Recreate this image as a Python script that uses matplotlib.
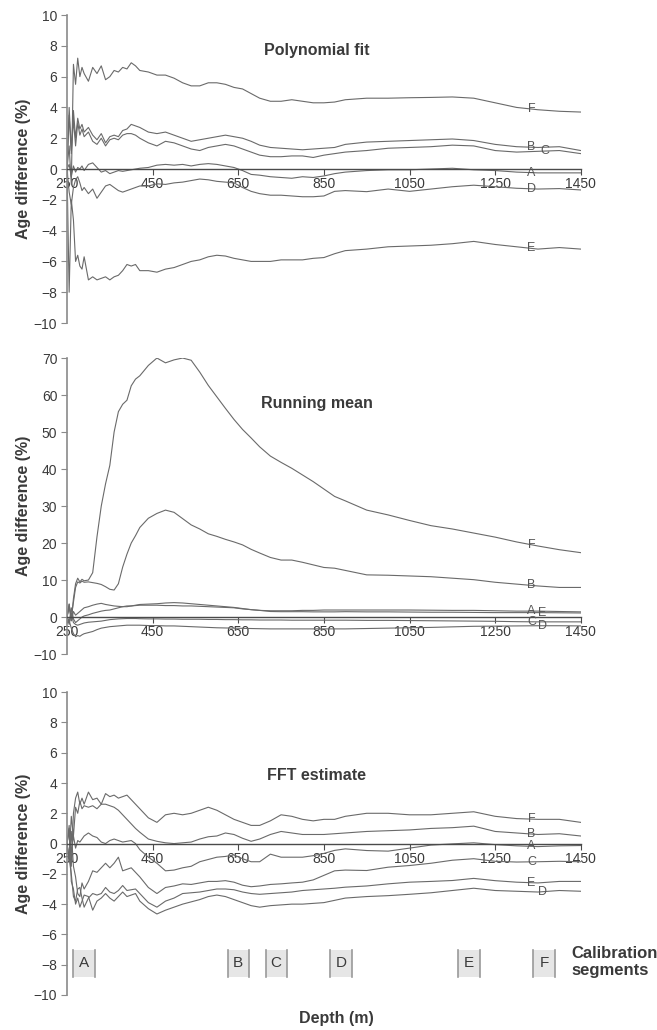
import numpy as np
import matplotlib
matplotlib.use("Agg")
import matplotlib.pyplot as plt
from matplotlib.patches import Rectangle

plt.rcParams['font.family'] = ['Liberation Sans', 'DejaVu Sans']

# depth grid (m) shared by all three panels
depth = [250, 255, 260, 265, 270, 275, 280, 285, 290,
         300, 310, 320, 330, 340, 350, 360, 370, 380, 390, 400, 410, 420,
         440, 460, 480, 500, 520, 540, 560, 580, 600, 620, 640, 660, 680, 700,
         725, 750, 775, 800, 825, 850, 875, 900,
         950, 1000, 1050, 1100, 1150, 1200, 1250, 1300, 1350, 1400, 1450]

# --- Polynomial fit ---
poly_A = [0.0, 0.3, -0.5, 0.2, -0.2, 0.1, 0.0, 0.2, -0.1,
          0.3, 0.4, 0.1, -0.2, -0.1, -0.3, -0.2, -0.1, -0.15, -0.1, -0.05, 0.0, 0.05,
          0.1, 0.25, 0.3, 0.25, 0.3, 0.2, 0.3, 0.35, 0.3, 0.2, 0.1, -0.1, -0.35, -0.4,
          -0.5, -0.55, -0.6, -0.5, -0.55, -0.45, -0.3, -0.2,
          -0.1, -0.05, -0.05, 0.0, 0.05, -0.05, -0.1, -0.2, -0.25, -0.25, -0.25]
poly_B = [0.0, 4.0, 1.2, 3.8, 2.0, 3.3, 2.6, 2.9, 2.4,
          2.7, 2.2, 1.9, 2.3, 1.7, 2.1, 2.2, 2.1, 2.5, 2.6, 2.9, 2.8, 2.7,
          2.4, 2.3, 2.4, 2.2, 2.0, 1.8, 1.9, 2.0, 2.1, 2.2, 2.1, 2.0, 1.8, 1.55,
          1.4, 1.35, 1.3, 1.25, 1.3, 1.35, 1.4, 1.6,
          1.75, 1.8, 1.85, 1.9, 1.95, 1.85, 1.6, 1.45, 1.4, 1.45, 1.2]
poly_C = [0.0, 3.5, 1.0, 3.2, 1.5, 3.0, 2.2, 2.6, 2.1,
          2.4, 1.8, 1.6, 2.0, 1.5, 1.9, 2.0, 1.9, 2.2, 2.3, 2.3, 2.2, 2.0,
          1.7, 1.5, 1.8, 1.7, 1.5, 1.3, 1.2, 1.4, 1.5, 1.6, 1.5, 1.3, 1.1, 0.9,
          0.8, 0.8, 0.85, 0.85, 0.75, 0.9, 1.0, 1.1,
          1.2, 1.35, 1.4, 1.45, 1.55, 1.5, 1.2, 1.1, 1.15, 1.2, 1.0]
poly_D = [0.0, -1.5, -2.3, -1.2, -0.7, -0.5, -0.9, -1.4, -1.2,
          -1.6, -1.3, -1.9, -1.5, -1.1, -1.0, -1.2, -1.4, -1.5, -1.4, -1.3, -1.2, -1.1,
          -1.1, -0.96, -1.0, -0.9, -0.85, -0.75, -0.65, -0.7, -0.8, -0.85, -0.9, -1.2, -1.45, -1.6,
          -1.7, -1.7, -1.75, -1.8, -1.8, -1.75, -1.45, -1.4,
          -1.47, -1.3, -1.45, -1.3, -1.15, -1.05, -1.15, -1.25, -1.3, -1.27, -1.36]
poly_E = [0.0, -8.0, -2.0, -3.3, -6.0, -5.6, -6.3, -6.5, -5.7,
          -7.2, -7.0, -7.2, -7.1, -7.0, -7.2, -7.0, -6.9, -6.6, -6.2, -6.3, -6.2, -6.6,
          -6.6, -6.7, -6.5, -6.4, -6.2, -6.0, -5.9, -5.7, -5.6, -5.65, -5.8, -5.9, -6.0, -6.0,
          -6.0, -5.9, -5.9, -5.9, -5.8, -5.75, -5.5, -5.3,
          -5.2, -5.05, -5.0, -4.95, -4.85, -4.7, -4.9, -5.05, -5.2, -5.1, -5.2]
poly_F = [0.0, 1.5, -1.0, 6.8, 5.5, 7.2, 6.0, 6.6, 6.2,
          5.7, 6.6, 6.2, 6.7, 5.8, 6.0, 6.4, 6.3, 6.6, 6.5, 6.9, 6.7, 6.4,
          6.3, 6.1, 6.1, 5.9, 5.6, 5.4, 5.4, 5.6, 5.6, 5.5, 5.3, 5.2, 4.9, 4.6,
          4.4, 4.4, 4.5, 4.4, 4.3, 4.3, 4.35, 4.5,
          4.6, 4.6, 4.63, 4.65, 4.68, 4.6, 4.3, 4.0, 3.85, 3.75, 3.7]

# --- Running mean ---
run_A = [0.0, 3.5, -1.0, 1.5, 0.5, 1.0, 1.5, 2.0, 2.5,
         2.8, 3.2, 3.5, 3.7, 3.4, 3.2, 3.0, 2.9, 2.8, 2.8, 3.0, 3.2, 3.4,
         3.5, 3.6, 3.8, 3.9, 3.8, 3.6, 3.4, 3.2, 3.0, 2.8, 2.6, 2.3, 2.0, 1.8,
         1.7, 1.7, 1.7, 1.8, 1.8, 1.9, 1.9, 1.9,
         1.9, 1.9, 1.9, 1.85, 1.8, 1.8, 1.7, 1.6, 1.6, 1.5, 1.4]
run_B = [0.0, 2.5, 0.0, 4.0, 8.0, 9.5, 9.2, 9.7, 9.4,
         9.5, 9.3, 9.1, 8.8, 8.2, 7.5, 7.3, 9.0, 13.5, 17.0, 20.0, 22.0, 24.2,
         26.7, 28.0, 28.9, 28.3, 26.6, 24.9, 23.8, 22.5, 21.8, 21.0, 20.3, 19.5, 18.3, 17.3,
         16.1, 15.4, 15.4, 14.8, 14.1, 13.4, 13.2, 12.6,
         11.4, 11.3, 11.1, 10.9, 10.5, 10.1, 9.4, 8.9, 8.4, 8.0, 8.0]
run_C = [0.0, -2.0, 1.0, -1.5, -2.0, -2.2, -2.0, -1.8, -1.6,
         -1.4, -1.3, -1.2, -1.1, -0.9, -0.7, -0.6, -0.5, -0.45, -0.4, -0.4, -0.4, -0.45,
         -0.5, -0.5, -0.55, -0.55, -0.6, -0.6, -0.6, -0.65, -0.65, -0.7, -0.7, -0.75, -0.75, -0.8,
         -0.8, -0.8, -0.85, -0.85, -0.85, -0.85, -0.85, -0.85,
         -0.9, -0.9, -0.95, -1.0, -1.05, -1.1, -1.15, -1.25, -1.3, -1.3, -1.3]
run_D = [0.0, -1.0, -3.0, -4.5, -5.3, -5.0, -5.2, -4.8, -4.5,
         -4.2, -3.9, -3.4, -3.0, -2.8, -2.6, -2.5, -2.4, -2.3, -2.2, -2.2, -2.2, -2.2,
         -2.3, -2.3, -2.4, -2.4, -2.5, -2.6, -2.7, -2.8, -2.9, -2.95, -3.0, -3.05, -3.1, -3.15,
         -3.2, -3.2, -3.2, -3.2, -3.2, -3.2, -3.2, -3.2,
         -3.1, -3.0, -2.9, -2.8, -2.65, -2.5, -2.45, -2.4, -2.35, -2.35, -2.4]
run_E = [0.0, -1.5, 2.5, -0.5, -1.5, -1.0, -0.5, 0.0, 0.3,
         0.6, 1.0, 1.3, 1.6, 1.8, 1.9, 2.2, 2.5, 2.8, 3.0, 3.0, 3.1, 3.2,
         3.2, 3.2, 3.1, 3.1, 3.0, 3.0, 2.9, 2.8, 2.7, 2.6, 2.5, 2.2, 2.0, 1.8,
         1.5, 1.45, 1.45, 1.45, 1.4, 1.4, 1.4, 1.45,
         1.4, 1.4, 1.35, 1.3, 1.3, 1.25, 1.2, 1.2, 1.2, 1.15, 1.1]
run_F = [0.0, 3.5, -1.0, 5.0, 9.0, 10.5, 9.5, 10.2, 9.8,
         10.0, 12.0, 21.7, 30.0, 36.0, 41.0, 50.0, 55.5, 57.5, 58.6, 62.5, 64.3, 65.2,
         68.0, 70.0, 68.7, 69.5, 70.0, 69.4, 66.2, 62.6, 59.5, 56.4, 53.4, 50.7, 48.4, 46.0,
         43.5, 41.8, 40.2, 38.4, 36.6, 34.6, 32.6, 31.4,
         28.9, 27.6, 26.1, 24.7, 23.8, 22.7, 21.6, 20.3, 19.2, 18.2, 17.4]

# --- FFT estimate ---
fft_A = [0.0, 0.8, -0.6, 0.5, -0.3, 0.2, 0.1, 0.3, 0.5,
         0.7, 0.5, 0.4, 0.1, 0.0, 0.2, 0.3, 0.2, 0.1, 0.15, 0.2, 0.0, -0.4,
         -0.9, -1.3, -1.8, -1.75, -1.6, -1.5, -1.2, -1.05, -0.9, -0.85, -0.75, -1.0, -1.2, -1.2,
         -0.7, -0.9, -0.9, -0.9, -0.8, -0.65, -0.45, -0.35,
         -0.46, -0.5, -0.3, -0.1, -0.02, 0.05, -0.07, -0.15, -0.2, -0.15, -0.13]
fft_B = [0.0, -1.0, 1.8, 0.5, 2.4, 2.0, 2.8, 2.3, 2.5,
         2.4, 2.5, 2.3, 2.6, 2.6, 2.5, 2.4, 2.2, 1.9, 1.6, 1.3, 1.0, 0.75,
         0.3, 0.15, 0.05, 0.0, 0.05, 0.1, 0.3, 0.45, 0.5, 0.7, 0.6, 0.35, 0.15, 0.3,
         0.6, 0.8, 0.7, 0.6, 0.6, 0.6, 0.65, 0.7,
         0.8, 0.85, 0.9, 1.0, 1.05, 1.15, 0.8, 0.7, 0.6, 0.65, 0.5]
fft_C = [0.0, -1.2, 0.8, -1.5, -2.2, -3.3, -3.5, -2.6, -3.0,
         -2.5, -1.8, -1.9, -1.6, -1.3, -1.6, -1.3, -0.9, -1.8, -1.7, -1.6, -1.9, -2.2,
         -2.9, -3.3, -2.9, -2.8, -2.66, -2.7, -2.6, -2.5, -2.5, -2.45, -2.55, -2.75, -2.85, -2.8,
         -2.7, -2.66, -2.6, -2.55, -2.4, -2.1, -1.8, -1.75,
         -1.78, -1.56, -1.45, -1.3, -1.1, -1.0, -1.17, -1.22, -1.2, -1.17, -1.2]
fft_D = [0.0, 1.0, -2.5, -3.0, -4.0, -3.6, -4.2, -3.8, -3.4,
         -3.5, -4.4, -3.8, -3.6, -3.3, -3.6, -3.8, -3.5, -3.2, -3.5, -3.4, -3.3, -3.8,
         -4.3, -4.65, -4.4, -4.2, -4.0, -3.85, -3.7, -3.5, -3.4, -3.5, -3.7, -3.9, -4.1, -4.2,
         -4.1, -4.05, -4.0, -4.0, -3.95, -3.9, -3.75, -3.6,
         -3.5, -3.44, -3.35, -3.25, -3.1, -2.95, -3.1, -3.15, -3.2, -3.1, -3.15]
fft_E = [0.0, -1.0, -2.0, -3.5, -3.8, -3.0, -2.9, -3.6, -4.2,
         -3.6, -3.3, -3.4, -3.3, -2.9, -3.2, -3.3, -3.1, -2.77, -3.1, -3.05, -3.0, -3.3,
         -3.9, -4.2, -3.8, -3.6, -3.3, -3.25, -3.2, -3.1, -3.0, -3.0, -3.05, -3.2, -3.3, -3.35,
         -3.3, -3.25, -3.2, -3.1, -3.05, -3.0, -2.95, -2.88,
         -2.8, -2.66, -2.55, -2.5, -2.44, -2.3, -2.45, -2.55, -2.6, -2.5, -2.5]
fft_F = [0.0, 1.2, -1.5, 2.0, 3.0, 3.4, 2.6, 3.0, 2.6,
         3.4, 2.9, 3.0, 2.6, 3.3, 3.1, 3.2, 3.0, 3.1, 3.2, 2.9, 2.6, 2.3,
         1.7, 1.4, 1.9, 2.0, 1.9, 2.0, 2.2, 2.4, 2.2, 1.9, 1.6, 1.4, 1.2, 1.2,
         1.5, 1.9, 1.8, 1.6, 1.5, 1.6, 1.6, 1.8,
         2.0, 2.0, 1.9, 1.9, 2.0, 2.1, 1.8, 1.65, 1.6, 1.6, 1.4]

series_names = ['A', 'B', 'C', 'D', 'E', 'F']

# calibration segments (depth ranges, m)
seg_names = ['A', 'B', 'C', 'D', 'E', 'F']
seg_start = [264, 625, 714, 865, 1164, 1339]
seg_end = [315, 674, 763, 916, 1215, 1390]

xticks = [250, 450, 650, 850, 1050, 1250, 1450]

panels = [
    dict(title='Polynomial fit', data=[poly_A, poly_B, poly_C, poly_D, poly_E, poly_F],
         ylim=(-10, 10), yticks=np.arange(-10, 11, 2), title_y=7.7,
         rect=[0.102, 0.6864, 0.782, 0.299], label_dx={'C': 30}),
    dict(title='Running mean', data=[run_A, run_B, run_C, run_D, run_E, run_F],
         ylim=(-10, 70), yticks=np.arange(-10, 71, 10), title_y=57.6,
         rect=[0.102, 0.365, 0.782, 0.2874], label_dx={'E': 25, 'D': 25}),
    dict(title='FFT estimate', data=[fft_A, fft_B, fft_C, fft_D, fft_E, fft_F],
         ylim=(-10, 10), yticks=np.arange(-10, 11, 2), title_y=4.5,
         rect=[0.102, 0.034, 0.782, 0.294], label_dx={'D': 25}),
]

line_col = '#6a6a6a'
text_col = '#3a3a3a'

fig = plt.figure(figsize=(6.57, 10.30), dpi=100)

for p in panels:
    ax = fig.add_axes(p['rect'])
    for name, vals in zip(series_names, p['data']):
        ax.plot(depth, vals, color=line_col, lw=0.8)
        lx = 1335 + p['label_dx'].get(name, 0)
        ly = np.interp(lx, depth, vals)
        ax.text(lx, ly, name, color='#555555', fontsize=9,
                ha='center', va='center')
    ax.set_xlim(250, 1450)
    ax.set_ylim(*p['ylim'])
    ax.set_xticks(xticks)
    ax.set_yticks(p['yticks'])
    ax.spines['top'].set_visible(False)
    ax.spines['right'].set_visible(False)
    ax.spines['bottom'].set_position(('data', 0))
    ax.spines['bottom'].set_color('#4a4a4a')
    ax.spines['bottom'].set_linewidth(1.0)
    ax.spines['left'].set_color('#8a8a8a')
    ax.spines['left'].set_linewidth(1.2)
    ax.tick_params(axis='x', direction='out', length=4, color='#4a4a4a',
                   labelsize=10, labelcolor=text_col, pad=2)
    ax.tick_params(axis='y', direction='out', length=4, color='#8a8a8a',
                   labelsize=10, labelcolor=text_col, pad=3)
    ax.set_ylabel('Age difference (%)', fontsize=11.5, fontweight='bold',
                  color=text_col, labelpad=2)
    ax.text(0.486, p['title_y'], p['title'], transform=ax.get_yaxis_transform(),
            fontsize=11.5, fontweight='bold', color=text_col, ha='center', va='center')
    ax.set_facecolor('none')
    last_ax = ax

# calibration segment boxes on the FFT panel
for name, s, e in zip(seg_names, seg_start, seg_end):
    last_ax.add_patch(Rectangle((s, -8.8), e - s, 1.8, facecolor='#e6e6e6',
                                edgecolor='none', zorder=1))
    last_ax.plot([s, s], [-8.8, -7.0], color='#9a9a9a', lw=1.2)
    last_ax.plot([e, e], [-8.8, -7.0], color='#9a9a9a', lw=1.2)
    last_ax.text((s + e) / 2, -7.9, name, fontsize=11, color=text_col,
                 ha='center', va='center')

fig.text(571 / 657, 1 - 962 / 1030, 'Calibration\nsegments', fontsize=12,
         fontweight='bold', color=text_col, ha='left', va='center', linespacing=1.1)
fig.text(336 / 657, 1 - 1018 / 1030, 'Depth (m)', fontsize=11.5,
         fontweight='bold', color=text_col, ha='center', va='center')

fig.savefig('out.png', dpi=100)
